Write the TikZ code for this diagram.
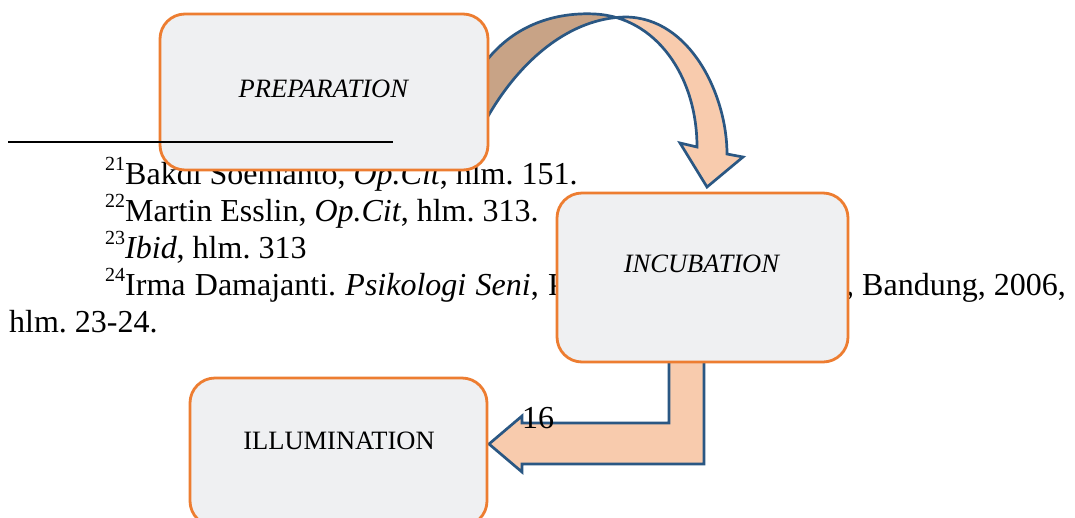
\documentclass[tikz,border=0pt]{standalone}
\usepackage{fontspec}
\setmainfont{Liberation Serif}
\usepackage{tikz}
\usetikzlibrary{positioning}
\usepackage{xcolor}
\frenchspacing
\definecolor{stagefill}{HTML}{EFF0F2}
\definecolor{stageline}{HTML}{ED7D31}
\definecolor{arrowfront}{HTML}{F8CBAD}
\definecolor{arrowback}{HTML}{C8A386}
\definecolor{arrowline}{HTML}{2A5783}
\newcommand{\fnmark}[1]{\raisebox{14pt}{\fontsize{20}{20}\selectfont #1}}
\tikzset{
    stage/.style={
        draw=stageline,
        fill=stagefill,
        line width=2.8pt,
        rounded corners=25pt,
        inner sep=0pt
    },
    stagetext/.style={
        anchor=base,
        inner sep=0pt,
        font=\fontsize{26.5}{30}\selectfont
    },
    footline/.style={
        anchor=base west,
        inner sep=0pt,
        font=\fontsize{32}{37}\selectfont
    },
    blockarrow/.style={
        draw=arrowline,
        line width=2.7pt,
        line join=miter
    }
}

\begin{document}
\begin{tikzpicture}[x=1pt, y=-1pt]
  \useasboundingbox (0,0) rectangle (1075,517);
  \clip (0,0) rectangle (1075,517);
  \fill[white] (0,0) rectangle (1075,517);

  % Footnotes of the page (partly hidden by the boxes)
  \node[footline] (fn21) at (105,184) {\fnmark{21}Bakdi Soemanto, \textit{Op.Cit}, hlm. 151.};
  \node[footline] (fn22) at (105,221) {\fnmark{22}Martin Esslin, \textit{Op.Cit}, hlm. 313.};
  \node[footline] (fn23) at (105,258) {\fnmark{23}\textit{Ibid}, hlm. 313};
  \node[footline] (fn24) at (105,295) {\spaceskip=9.3pt\fnmark{24}Irma Damajanti. \textit{Psikologi Seni}, P};
  \node[footline] (fn24b) at (846,295) {, Bandung, 2006,};
  \node[footline] (fn24c) at (9,332) {hlm. 23-24.};

  % Curved arrow from preparation to incubation
  \fill[arrowback] (480,70) -- (487,60) .. controls (515,25) and (555,12) .. (595,14)
    -- (625,17) .. controls (570,18) and (520,60) .. (487,118) -- (480,128) -- cycle;
  \fill[arrowfront] (595,14) .. controls (655,17) and (697,75) .. (697,147)
    -- (680,143) -- (707,187) -- (743,157) -- (727,154)
    .. controls (727,95) and (690,17) .. (625,17) -- cycle;
  \draw[blockarrow] (487,60) .. controls (515,25) and (555,12) .. (595,14)
    .. controls (655,17) and (697,75) .. (697,147)
    -- (680,143) -- (707,187) -- (743,157) -- (727,154)
    .. controls (727,95) and (690,17) .. (625,17)
    .. controls (570,18) and (520,60) .. (487,118);

  % Bent arrow from incubation to illumination
  \draw[blockarrow, fill=arrowfront] (669,350) -- (669,423) -- (522,423) -- (522,416)
    -- (489,444) -- (522,472) -- (522,464) -- (704,464) -- (704,350);

  % The three stages
  \node[stage, minimum width=328pt, minimum height=156pt] (prep) at (324,92) {};
  \node[stage, minimum width=291pt, minimum height=169pt] (incub) at (702.5,277.5) {};
  \node[stage, minimum width=297pt, minimum height=148pt] (illum) at (338.5,452) {};

  \node[stagetext] (preptext) at (324,97) {\textit{PREPARATION}};
  \node[stagetext] (incubtext) at (702,272.5) {\textit{INCUBATION}};
  \node[stagetext] (illumtext) at (339,449) {ILLUMINATION};

  % Footnote rule and page number on top
  \draw[line width=2pt] (8,142) -- (393,142);
  \node[footline, anchor=base] (pagenum) at (538,428) {16};
\end{tikzpicture}
\end{document}
